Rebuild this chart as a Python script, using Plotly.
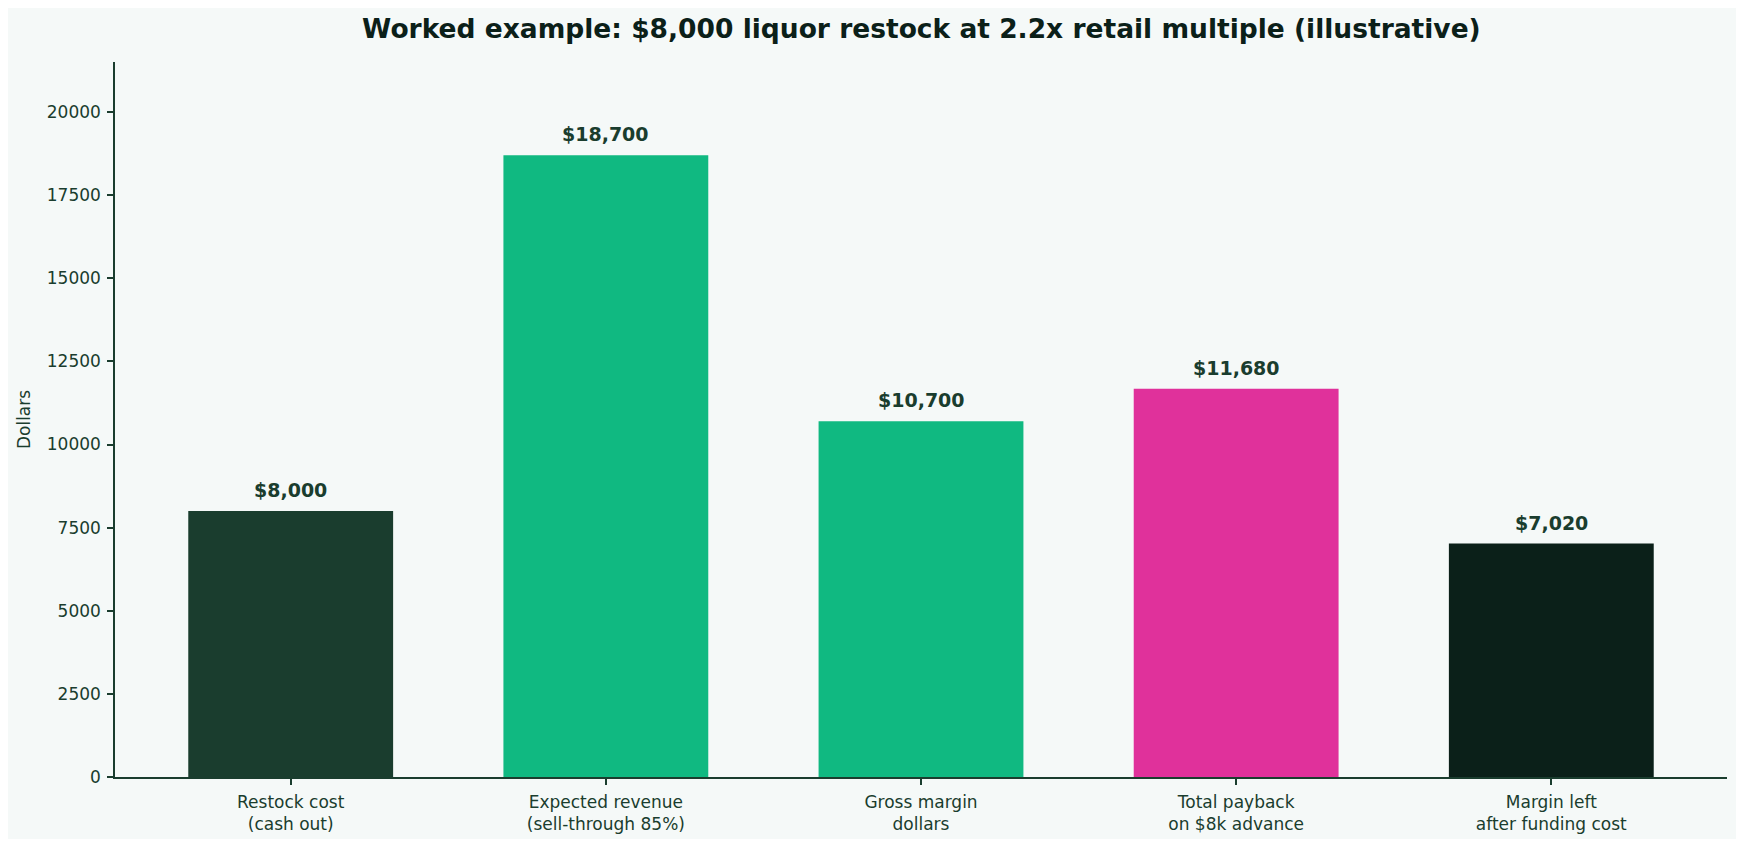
import plotly.graph_objects as go

categories = ['Restock cost<br>(cash out)',
              'Expected revenue<br>(sell-through 85%)',
              'Gross margin<br>dollars',
              'Total payback<br>on $8k advance',
              'Margin left<br>after funding cost']
values = [8000, 18700, 10700, 11680, 7020]
bar_colors = ['#1a3d2e', '#10b981', '#10b981', '#e0319b', '#0b2019']

ink = '#1a3d2e'
bg = '#f5f9f8'

fig = go.Figure(go.Bar(x=list(range(len(values))),
                       y=values,
                       width=0.65,
                       marker=dict(color=bar_colors, line=dict(width=0)),
                       hoverinfo='skip'))

# value labels above each bar
for i, v in enumerate(values):
    fig.add_annotation(x=i, y=v, text=f'<b>${v:,}</b>',
                       showarrow=False, yanchor='bottom', yshift=8,
                       font=dict(family='DejaVu Sans', size=19, color=ink))

# page body adds an 8px margin, so the figure is 16px smaller
fig.update_layout(
    width=1728, height=831,
    paper_bgcolor=bg, plot_bgcolor=bg,
    margin=dict(l=107, r=9, t=54, b=62),
    showlegend=False,
    font=dict(family='DejaVu Sans', size=17, color=ink),
    title=dict(text='<b>Worked example: $8,000 liquor restock at 2.2x retail multiple (illustrative)</b>',
               x=0.5286, xanchor='center', y=0.975, yanchor='middle',
               font=dict(family='DejaVu Sans', size=26.5, color='#0b2019')),
)

fig.update_xaxes(tickvals=list(range(len(values))), ticktext=categories,
                 range=[-0.5575, 4.5575], automargin=False,
                 showline=True, linecolor=ink, linewidth=1.5,
                 ticks='outside', ticklen=6, tickwidth=1.5, tickcolor=ink,
                 ticklabelstandoff=3,
                 showgrid=False, zeroline=False,
                 tickfont=dict(size=17, color=ink))

fig.update_yaxes(range=[0, max(values) * 1.15], dtick=2500, tickformat='d',
                 automargin=False,
                 showline=True, linecolor=ink, linewidth=1.5,
                 ticks='outside', ticklen=6, tickwidth=1.5, tickcolor=ink,
                 ticklabelstandoff=3,
                 showgrid=False, zeroline=False,
                 tickfont=dict(size=17, color=ink),
                 title=dict(text='Dollars', font=dict(size=17, color=ink), standoff=12))

fig.write_html("out.html")
